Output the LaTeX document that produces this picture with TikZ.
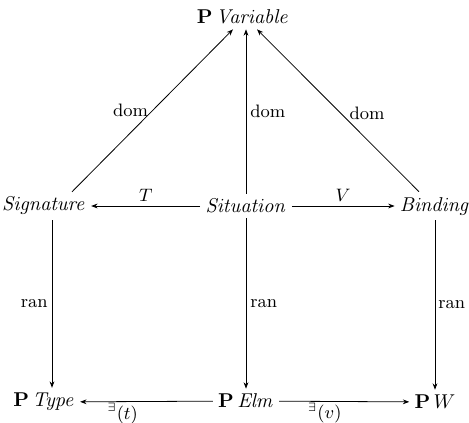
\documentclass[tikz,border=0pt]{standalone}
\usepackage{amsmath,amssymb}
\usepackage{tikz}
\usetikzlibrary{arrows.meta,positioning,calc}

\begin{document}
\begin{tikzpicture}[x=0.5pt,y=-0.5pt,>={Stealth[length=3.2pt,width=2.4pt]},
  obj/.style={inner sep=2.5pt},
  lbl/.style={font=\small,inner sep=2pt}]
 \useasboundingbox (0,0) rectangle (469,422);
 % --- objects ---
 \node[obj] (pvar) at (243,17) {$\mathbf{P}\,\mathit{Variable}$};
 \node[obj] (sig) at (44,206) {$\mathit{Signature}$};
 \node[obj] (sit) at (246,206) {$\mathit{Situation}$};
 \node[obj] (bind) at (435,206) {$\mathit{Binding}$};
 \node[obj] (ptype) at (44,402) {$\mathbf{P}\,\mathit{Type}$};
 \node[obj] (pelm) at (246,401) {$\mathbf{P}\,\mathit{Elm}$};
 \node[obj] (pw) at (435,402) {$\mathbf{P}\,W$};
 % --- dom arrows ---
 \draw[->] ([xshift=14pt]sig.north) -- node[lbl,left,pos=0.5] {dom} ([xshift=-5pt]pvar.south);
 \draw[->] (sit.north) -- node[lbl,right,pos=0.5] {dom} ([xshift=1.5pt]pvar.south);
 \draw[->] ([xshift=-8pt]bind.north) -- node[lbl,right,pos=0.48,xshift=2pt] {dom} ([xshift=7pt]pvar.south);
 % --- middle row ---
 \draw[->] (sit) -- node[lbl,above] {$T$} (sig);
 \draw[->] (sit) -- node[lbl,above] {$V$} (bind);
 % --- ran arrows ---
 \draw[->] ([xshift=4pt]sig.south) -- node[lbl,left] {ran} ([xshift=4pt]ptype.north);
 \draw[->] (sit) -- node[lbl,right] {ran} (pelm);
 \draw[->] (bind) -- node[lbl,right,inner sep=1.5pt] {ran} (pw);
 % --- bottom row ---
 \draw[->] (pelm) -- node[lbl,below,pos=0.68,inner sep=0.5pt] {$^{\exists}(t)$} (ptype);
 \draw[->] (pelm) -- node[lbl,below,pos=0.35,inner sep=0.5pt] {$^{\exists}(v)$} (pw);
\end{tikzpicture}
\end{document}
